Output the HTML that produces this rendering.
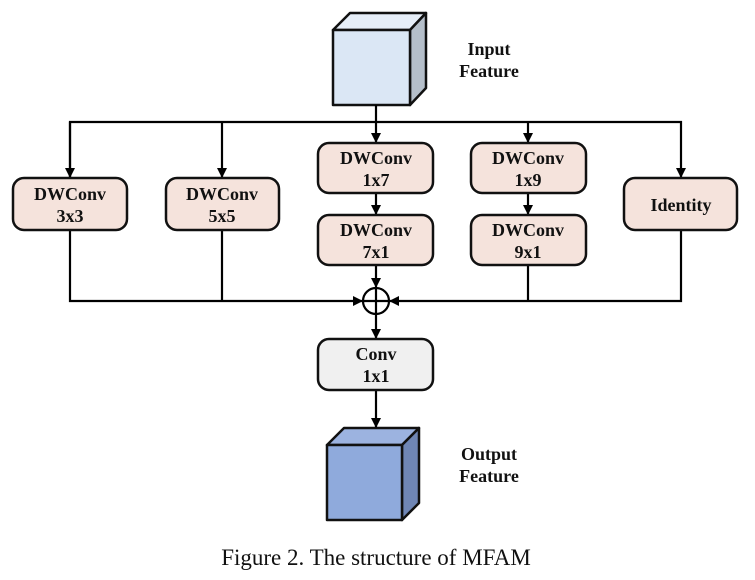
<!DOCTYPE html>
<html><head><style>body{margin:0;background:#fff}svg{display:block}
.t{font-family:"Liberation Serif",serif;font-weight:bold;font-size:18px;fill:#111;text-anchor:middle}</style></head>
<body>
<svg width="755" height="580" viewBox="0 0 755 580" xmlns="http://www.w3.org/2000/svg">
<defs><marker id="a" markerWidth="10" markerHeight="10" refX="9" refY="5" orient="auto" markerUnits="userSpaceOnUse"><path d="M0,0 L10,5 L0,10z" fill="#000"/></marker></defs>
<g stroke="#111" stroke-width="2.5" stroke-linejoin="round">
<polygon points="333,30 350,13 426,13 410,30" fill="#e6eef8"/>
<polygon points="410,30 426,13 426,88 410,105" fill="#b5bfca"/>
<rect x="333" y="30" width="77" height="75" fill="#dbe7f5"/>
<polygon points="327,445 344,428 419,428 402,445" fill="#9cb3e0"/>
<polygon points="402,445 419,428 419,503 402,520" fill="#6f86b5"/>
<rect x="327" y="445" width="75" height="75" fill="#8faadc"/>
</g>
<g stroke="#000" stroke-width="2.2" fill="none">
<line x1="376" y1="105" x2="376" y2="122"/>
<polyline points="70,177 70,122 681,122 681,177" marker-end="url(#a)"/>
<line x1="70" y1="122" x2="70" y2="177" marker-end="url(#a)"/>
<line x1="222" y1="122" x2="222" y2="177" marker-end="url(#a)"/>
<line x1="376" y1="122" x2="376" y2="142" marker-end="url(#a)"/>
<line x1="528" y1="122" x2="528" y2="142" marker-end="url(#a)"/>
<line x1="376" y1="193" x2="376" y2="214" marker-end="url(#a)"/>
<line x1="528" y1="193" x2="528" y2="214" marker-end="url(#a)"/>
<line x1="376" y1="265" x2="376" y2="287" marker-end="url(#a)"/>
<polyline points="70,230 70,301 362,301" marker-end="url(#a)"/>
<line x1="222" y1="230" x2="222" y2="301"/>
<polyline points="681,230 681,301 390,301" marker-end="url(#a)"/>
<line x1="528" y1="265" x2="528" y2="301"/>
<circle cx="376" cy="301" r="13"/>
<line x1="363" y1="301" x2="389" y2="301"/><line x1="376" y1="288" x2="376" y2="314"/>
<line x1="376" y1="314" x2="376" y2="338" marker-end="url(#a)"/>
<line x1="376" y1="390" x2="376" y2="427" marker-end="url(#a)"/>
</g>
<g stroke="#111" stroke-width="2.5" fill="#f5e3dc">
<rect x="13" y="178" width="114" height="52" rx="11"/>
<rect x="166" y="178" width="113" height="52" rx="11"/>
<rect x="318" y="143" width="115" height="50" rx="11"/>
<rect x="318" y="215" width="115" height="50" rx="11"/>
<rect x="471" y="143" width="115" height="50" rx="11"/>
<rect x="471" y="215" width="115" height="50" rx="11"/>
<rect x="624" y="178" width="113" height="52" rx="11"/>
<rect x="318" y="339" width="115" height="51" rx="11" fill="#f0f0f0"/>
</g>
<g class="t">
<text x="70" y="200">DWConv</text><text x="70" y="222">3x3</text>
<text x="222" y="200">DWConv</text><text x="222" y="222">5x5</text>
<text x="376" y="164">DWConv</text><text x="376" y="186">1x7</text>
<text x="376" y="236">DWConv</text><text x="376" y="258">7x1</text>
<text x="528" y="164">DWConv</text><text x="528" y="186">1x9</text>
<text x="528" y="236">DWConv</text><text x="528" y="258">9x1</text>
<text x="681" y="211">Identity</text>
<text x="376" y="360">Conv</text><text x="376" y="382">1x1</text>
<text x="489" y="55">Input</text><text x="489" y="77">Feature</text>
<text x="489" y="460">Output</text><text x="489" y="482">Feature</text>
</g>
<text x="376" y="565" font-family="Liberation Serif,serif" font-size="23" text-anchor="middle" fill="#111">Figure 2. The structure of MFAM</text>
</svg>
</body></html>
